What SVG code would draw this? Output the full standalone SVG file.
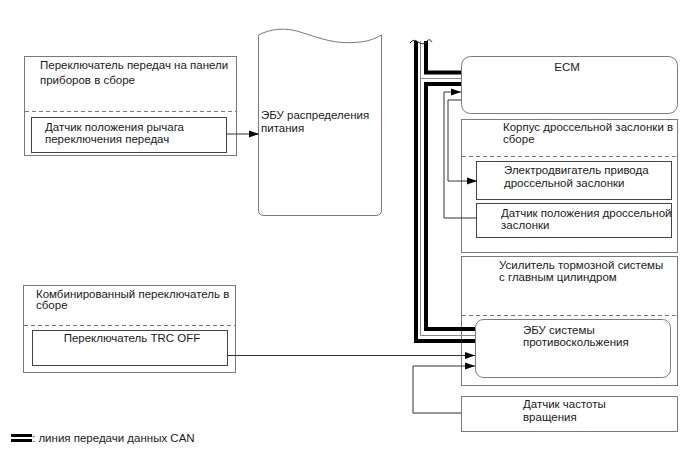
<svg xmlns="http://www.w3.org/2000/svg" width="688" height="463" viewBox="0 0 688 463">
<style>
  .t{font-family:"Liberation Sans",Arial,sans-serif;font-size:11.5px;fill:#1a1a1a}
  .box{fill:#fff;stroke:#7a7a7a;stroke-width:1}
  .inner{fill:#fff;stroke:#444;stroke-width:1}
  .dash{stroke:#7a7a7a;stroke-width:1;stroke-dasharray:4,3;fill:none}
  .wire{fill:none;stroke:#333;stroke-width:1}
  .can{fill:none;stroke:#000;stroke-width:4}
  .cang{fill:none;stroke:#888;stroke-width:1}
</style>
<defs>
  <marker id="ar" viewBox="0 0 10 10" refX="10" refY="5" markerWidth="10" markerHeight="10" markerUnits="userSpaceOnUse" orient="auto">
    <path d="M0,1.5 L10,5 L0,8.5 Z" fill="#000"/>
  </marker>
</defs>
<rect width="688" height="463" fill="#fff"/>

<g id="shift-switch">
  <rect class="box" x="24.5" y="56.5" width="212" height="99"/>
  <line class="dash" x1="25" y1="111.5" x2="236" y2="111.5"/>
  <text class="t" x="40" y="69">Переключатель передач на панели</text>
  <text class="t" x="40" y="84">приборов в сборе</text>
</g>
<g id="shift-sensor">
  <rect class="inner" x="31.5" y="117.5" width="195" height="35"/>
  <text class="t" x="45" y="131">Датчик положения рычага</text>
  <text class="t" x="45" y="143">переключения передач</text>
</g>

<g id="power-ecu">
  <path class="box" d="M258.5,35 C270,29 285,27 300,32 C320,38 335,45 360,42 C370,41 376,38 381.5,35 V210 Q381.5,215.5 376,215.5 H264 Q258.5,215.5 258.5,210 Z"/>
  <text class="t" x="261" y="119">ЭБУ распределения</text>
  <text class="t" x="261" y="132">питания</text>
</g>

<g id="combo-switch">
  <rect class="box" x="23.5" y="285.5" width="212" height="87"/>
  <line class="dash" x1="24" y1="325.5" x2="235" y2="325.5"/>
  <text class="t" x="36" y="298">Комбинированный переключатель в</text>
  <text class="t" x="36" y="309">сборе</text>
</g>
<g id="trc-off">
  <rect class="inner" x="32.5" y="330.5" width="195" height="35"/>
  <text class="t" x="132" y="342" text-anchor="middle">Переключатель TRC OFF</text>
</g>

<g id="ecm">
  <rect class="box" x="461.5" y="56.5" width="216" height="57" rx="9"/>
  <text class="t" x="567" y="71" text-anchor="middle">ECM</text>
</g>

<g id="throttle-body">
  <rect class="box" x="461.5" y="119.5" width="216" height="133"/>
  <line class="dash" x1="462" y1="156.5" x2="677" y2="156.5"/>
  <text class="t" x="503" y="131">Корпус дроссельной заслонки в</text>
  <text class="t" x="503" y="143">сборе</text>
</g>
<g id="throttle-motor">
  <rect class="inner" x="476.5" y="161.5" width="195" height="38"/>
  <text class="t" x="504" y="174">Электродвигатель привода</text>
  <text class="t" x="504" y="187">дроссельной заслонки</text>
</g>
<g id="throttle-sensor">
  <rect class="inner" x="476.5" y="203.5" width="195" height="34"/>
  <text class="t" x="501" y="217">Датчик положения дроссельной</text>
  <text class="t" x="501" y="229">заслонки</text>
</g>

<g id="brake-booster">
  <rect class="box" x="461.5" y="256.5" width="216" height="129"/>
  <line class="dash" x1="462" y1="315.5" x2="677" y2="315.5"/>
  <text class="t" x="499" y="269">Усилитель тормозной системы</text>
  <text class="t" x="499" y="281">с главным цилиндром</text>
</g>
<g id="abs-ecu">
  <rect class="box" x="475.5" y="319.5" width="195" height="58" rx="8"/>
  <text class="t" x="523" y="334">ЭБУ системы</text>
  <text class="t" x="523" y="346">противоскольжения</text>
</g>

<g id="speed-sensor">
  <rect class="box" x="461.5" y="396.5" width="216" height="35"/>
  <text class="t" x="523" y="408">Датчик частоты</text>
  <text class="t" x="523" y="421">вращения</text>
</g>

<g id="connectors">
  <path class="wire" d="M227,134 H259" marker-end="url(#ar)"/>
  <path class="wire" d="M228,355.5 H475" marker-end="url(#ar)"/>
  <path class="wire" d="M461,413 H413 V366 H475" marker-end="url(#ar)"/>
  <path class="wire" d="M461,100 H448 V181 H477" marker-end="url(#ar)"/>
  <path class="wire" d="M477,218 H444 V92 H461" marker-end="url(#ar)"/>
  <path class="cang" d="M420.5,41 V335.5 H475"/>
  <path class="cang" d="M420.5,78.5 H461"/>
  <path class="can" d="M416,41 V341 H475"/>
  <path class="can" d="M426,41 V72.5 H461"/>
  <path class="can" d="M461,84 H426 V329 H475"/>
  <path d="M410,43 Q414,38 418,42 Q423,46 427,41 Q430,38 432,42" fill="none" stroke="#333" stroke-width="1"/>
</g>

<g id="legend">
  <rect x="11" y="434" width="21" height="3" fill="#000"/>
  <rect x="11" y="439" width="21" height="3" fill="#000"/>
  <text class="t" x="32" y="442">: линия передачи данных CAN</text>
</g>
</svg>
